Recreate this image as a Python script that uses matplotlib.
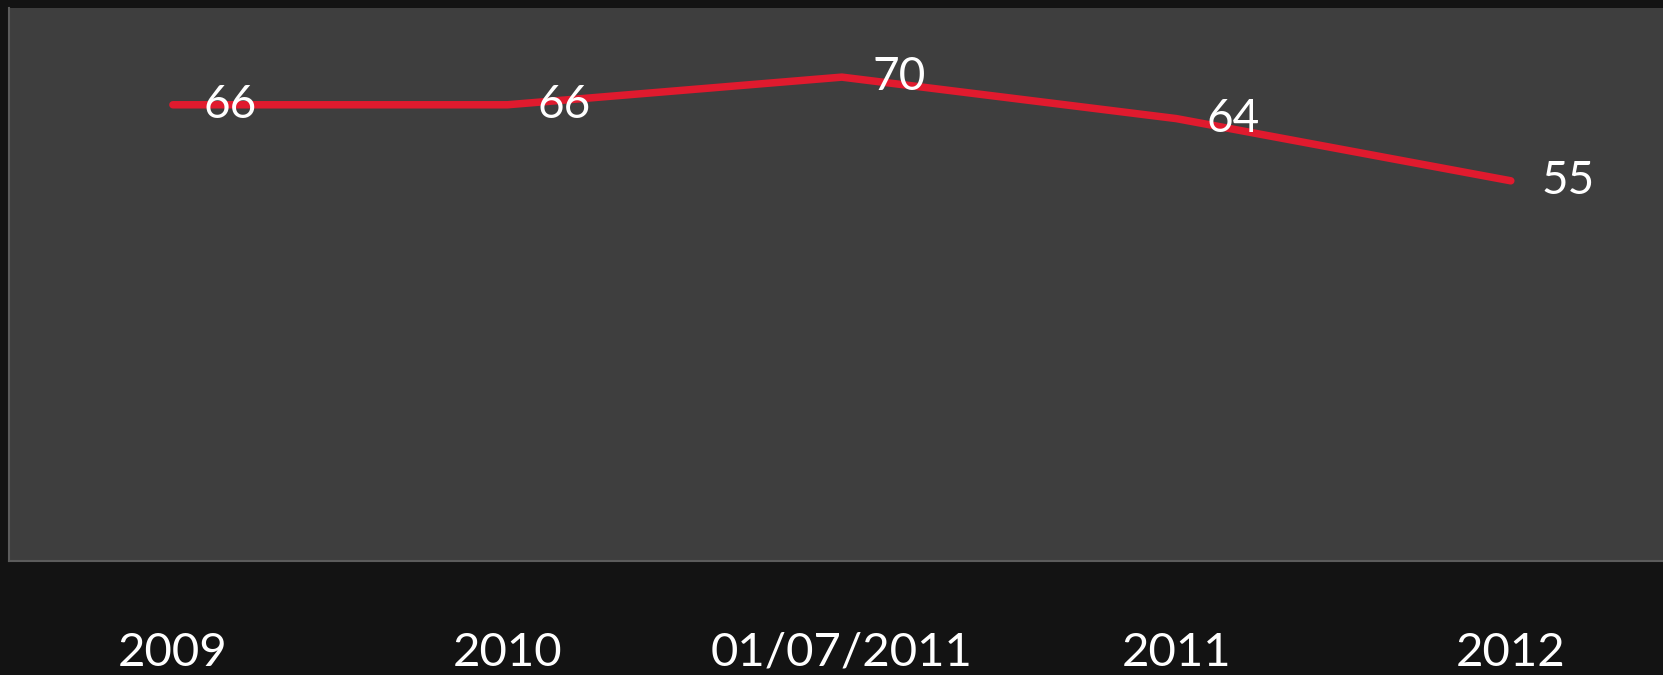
import matplotlib
matplotlib.use("Agg")
import matplotlib.pyplot as plt

categories = ["2009", "2010", "01/07/2011", "2011", "2012"]
values = [66, 66, 70, 64, 55]

plt.rcParams['font.family'] = ['Lato', 'DejaVu Sans']

fig = plt.figure(figsize=(16.63, 6.75), dpi=100, facecolor="#131313")
ax = fig.add_axes([9/1663, 1 - 561/675, 1 - 9/1663, (561 - 8)/675])
ax.set_facecolor("#3e3e3e")

x = list(range(len(categories)))
ax.plot(x, values, color="#e01a2e", linewidth=5.4, solid_capstyle="round", solid_joinstyle="round", zorder=3)

for xi, v in zip(x, values):
    ax.annotate(str(v), (xi, v), xytext=(41, 0), textcoords="offset points",
                ha="center", va="center", color="white", fontsize=33, zorder=4)

ax.set_xlim(-0.49, 4.455)
ax.set_ylim(0, 80)
ax.set_xticks(x)
ax.set_xticklabels(categories)
ax.set_yticks([])
ax.tick_params(axis="x", length=0, pad=51, labelsize=34, labelcolor="white")
for s in ["left", "bottom"]:
    ax.spines[s].set_color("#5c5c5c")
    ax.spines[s].set_linewidth(1.5)
for s in ["top", "right"]:
    ax.spines[s].set_visible(False)

fig.savefig("out.png", dpi=100, facecolor=fig.get_facecolor())
